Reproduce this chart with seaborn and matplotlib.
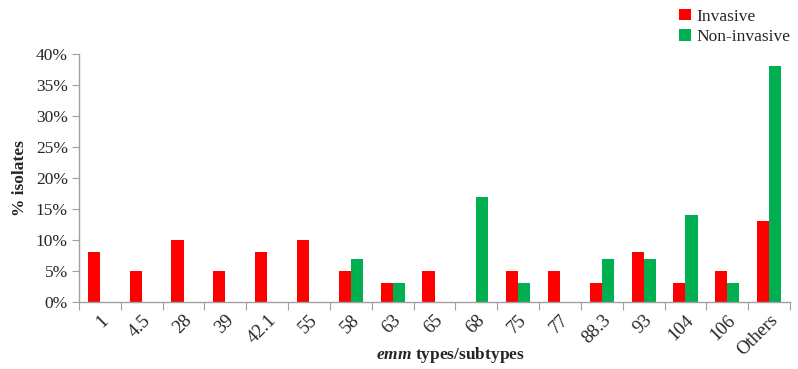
import pandas as pd
import matplotlib.pyplot as plt
import seaborn as sns

# emm types and % isolates per group
emm_types = ["1", "4.5", "28", "39", "42.1", "55", "58", "63", "65", "68",
             "75", "77", "88.3", "93", "104", "106", "Others"]
invasive = [8, 5, 10, 5, 8, 10, 5, 3, 5, 0, 5, 5, 3, 8, 3, 5, 13]
non_invasive = [0, 0, 0, 0, 0, 0, 7, 3, 0, 17, 3, 0, 7, 7, 14, 3, 38]
y_ticks = [0, 5, 10, 15, 20, 25, 30, 35, 40]

df = pd.DataFrame({
    "emm": emm_types * 2,
    "pct": invasive + non_invasive,
    "group": ["Invasive"] * len(emm_types) + ["Non-invasive"] * len(emm_types),
})

sns.set_style("white")
plt.rcParams['font.family'] = ['Liberation Serif', 'DejaVu Serif']
plt.rcParams['mathtext.fontset'] = 'custom'
plt.rcParams['mathtext.bfit'] = 'Liberation Serif:italic:bold'
plt.rcParams['mathtext.rm'] = 'Liberation Serif'

fig = plt.figure(figsize=(7.98, 3.69), dpi=100)
ax = fig.add_axes([0.099, 0.1816, 0.891, 0.672])

sns.barplot(data=df, x="emm", y="pct", hue="group", order=emm_types,
            palette={"Invasive": "#FF0000", "Non-invasive": "#00B050"},
            saturation=1, linewidth=0, width=0.58, ax=ax, legend=True)

ax.set_ylim(0, 40)
ax.set_xlim(-0.5, len(emm_types) - 0.5)
ax.set_yticks(y_ticks)
ax.set_yticklabels([f"{v}%" for v in y_ticks], fontsize=12.5)

# x ticks sit on category boundaries, labels at centres
ax.set_xticks([i - 0.5 for i in range(len(emm_types) + 1)], minor=False)
ax.set_xticklabels([])
ax.set_xticks(range(len(emm_types)), minor=True)
ax.set_xticklabels(emm_types, minor=True, rotation=45, ha="right",
                   rotation_mode="anchor", fontsize=13.5)
ax.tick_params(axis="x", which="major", length=6, color="#a0a0a0", direction="out", bottom=True)
ax.tick_params(axis="x", which="minor", length=0, pad=7)
ax.tick_params(axis="y", length=5, color="#a0a0a0", direction="out", left=True, pad=3)

for s in ["top", "right"]:
    ax.spines[s].set_visible(False)
for s in ["left", "bottom"]:
    ax.spines[s].set_color("#a0a0a0")
    ax.spines[s].set_linewidth(1)

ax.set_ylabel("% isolates", fontsize=12.5, fontweight="bold")
ax.yaxis.set_label_coords(-0.072, 0.5, transform=ax.transAxes)
ax.set_xlabel(r"$\mathbfit{emm}$ types/subtypes", fontsize=12.5, fontweight="bold")
ax.xaxis.set_label_coords(0.523, -0.214, transform=ax.transAxes)
ax.xaxis.label.set_va("center")

leg = ax.legend(loc="upper right", bbox_to_anchor=(1.003, 1.005), bbox_transform=fig.transFigure,
                frameon=False, fontsize=12.5, handlelength=0.65, handleheight=0.65,
                handletextpad=0.3, labelspacing=0.25, borderaxespad=0.2)

fig.savefig("out.png", dpi=100)
